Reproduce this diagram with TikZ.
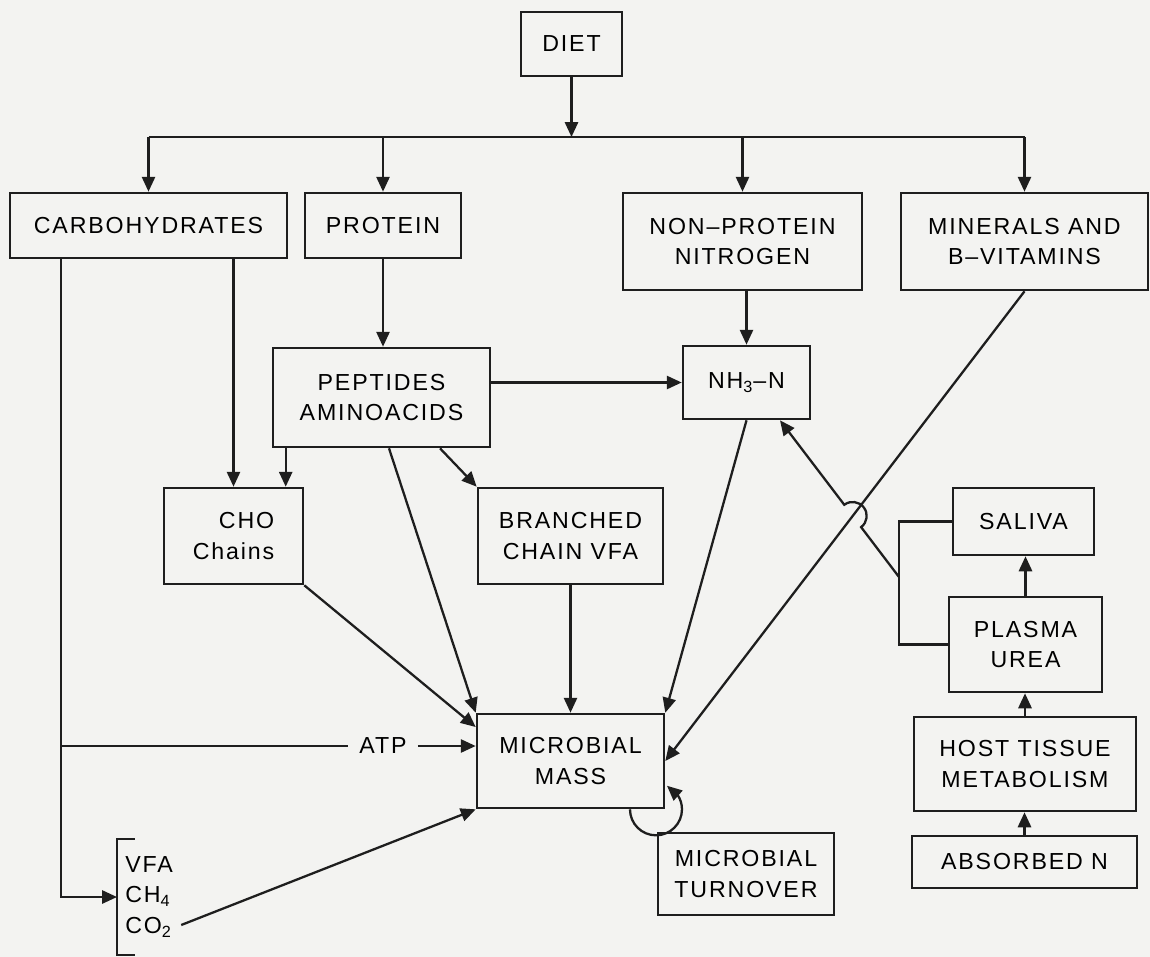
\documentclass[tikz,border=0pt]{standalone}
\usepackage{fontspec}
\setmainfont{Liberation Sans}[LetterSpace=8]
\usepackage{tikz}
\usetikzlibrary{calc,arrows.meta,bending,positioning}
\definecolor{cInk}{RGB}{30,30,30}
\definecolor{cPaper}{RGB}{243,243,241}

\begin{document}
\begin{tikzpicture}[x=0.02cm,y=-0.02cm,
  font=\fontsize{13.2pt}{17.6pt}\selectfont,
  box/.style={draw=cInk,line width=1.5pt,align=center,inner sep=2pt},
  arr/.style={draw=cInk,line width=1.3pt,-{Triangle[width=7.5pt,length=8.5pt]}},
  lnk/.style={draw=cInk,line width=1.3pt}]
  \fill[cPaper] (0,0) rectangle (1150,957);
  \useasboundingbox (0,0) rectangle (1150,957);

  % boxes
  \node[box,minimum width=2.02cm,minimum height=1.28cm] (diet) at (571.5,44) {DIET};
  \node[box,minimum width=5.54cm,minimum height=1.3cm] (carb) at (148.5,225.5) {CARBOHYDRATES};
  \node[box,minimum width=3.12cm,minimum height=1.3cm] (prot) at (383,225.5) {PROTEIN};
  \node[box,minimum width=4.78cm,minimum height=1.94cm] (npn) at (742.5,241.5) {NON\textendash PROTEIN\\NITROGEN};
  \node[box,minimum width=4.94cm,minimum height=1.94cm] (mins) at (1024.5,241.5) {MINERALS AND\\B\textendash VITAMINS};
  \node[box,minimum width=4.34cm,minimum height=1.98cm] (pep) at (381.5,397.5) {PEPTIDES\\AMINOACIDS};
  \node[box,minimum width=2.54cm,minimum height=1.46cm] (nh3) at (746.5,382.5) {NH\textsubscript{3}\textendash N};
  \node[box,align=right,minimum width=2.78cm,minimum height=1.92cm] (cho) at (233.5,536) {CHO\\Chains};
  \node[box,minimum width=3.7cm,minimum height=1.92cm] (bcvfa) at (570.5,536) {BRANCHED\\CHAIN VFA};
  \node[box,minimum width=3.74cm,minimum height=1.88cm] (mm) at (570.5,761) {MICROBIAL\\MASS};
  \node[box,minimum width=3.52cm,minimum height=1.64cm] (turn) at (746,874) {MICROBIAL\\TURNOVER};
  \node[box,minimum width=2.82cm,minimum height=1.34cm] (saliva) at (1023.5,521.5) {SALIVA};
  \node[box,minimum width=3.06cm,minimum height=1.9cm] (plasma) at (1025.5,644.5) {PLASMA\\UREA};
  \node[box,minimum width=4.44cm,minimum height=1.88cm] (host) at (1025,764) {HOST TISSUE\\METABOLISM};
  \node[box,minimum width=4.5cm,minimum height=1.04cm] (absn) at (1024.5,862) {ABSORBED N};
  \node[align=left,anchor=west,inner xsep=0.16cm,inner ysep=0pt,minimum height=2.3cm] (gas) at (117,897) {VFA\\CH\textsubscript{4}\\CO\textsubscript{2}};
  \node[inner xsep=0.22cm] (atp) at (383,746) {ATP};
  \draw[lnk] ([xshift=0.36cm]gas.north west) -- (gas.north west) -- (gas.south west) -- ++(0.36cm,0);

  % diet split
  \coordinate (bus) at (571.5,137);
  \draw[arr] (diet) -- (bus);
  \draw[lnk] (carb.north |- bus) -- (mins.north |- bus);
  \foreach \n in {carb,prot,npn,mins}
    \draw[arr] (\n.north |- bus) -- (\n.north);

  % carbohydrates
  \coordinate (cl) at ([xshift=1.04cm]carb.south west);
  \draw[arr] (cl) |- (gas.west);
  \draw[lnk] (cl |- atp) -- (atp.west);
  \draw[arr] (atp.east) -- (atp.east -| mm.west);
  \draw[arr] (carb.south -| cho.north) -- (cho.north);

  % protein and nitrogen
  \coordinate (pl) at ([xshift=0.28cm]pep.south west);
  \draw[arr] (prot.south) -- (prot.south |- pep.north);
  \draw[arr] (pl) -- (pl |- cho.north);
  \draw[arr] (pep.east |- nh3) -- (nh3.west);
  \draw[arr] ([xshift=0.15cm]pep.south) -- (mm.north west);
  \draw[arr] ([xshift=1.17cm]pep.south) -- (bcvfa.north west);
  \draw[arr] (npn.south -| nh3) -- (nh3.north);

  % into microbial mass
  \draw[arr] (cho.south east) -- ([yshift=0.68cm]mm.west);
  \draw[arr] (bcvfa.south) -- (mm.north);
  \draw[arr] (nh3.south) -- (mm.north east);
  \draw[arr] (mins.south) -- (mm.east);
  \draw[arr] ([yshift=-0.56cm]gas.east) -- (mm.south west);
  \draw[arr] ([xshift=1.19cm]mm.south) arc[start angle=180,end angle=425,radius=0.52cm];

  % urea recycling
  \draw[arr] (absn.north) -- (absn.north |- host.south);
  \draw[arr] (host.north) -- (host.north |- plasma.south);
  \draw[arr] (plasma.north) -- (plasma.north |- saliva.south);
  \coordinate (uj) at (899,577);
  \draw[lnk] (saliva.west) -| (uj) |- (plasma.west);
  \coordinate (ntip) at ([xshift=0.67cm]nh3.south);
  \coordinate (xing) at (intersection of uj--ntip and mins.south--mm.east);
  \draw[arr] (uj) -- ($(xing)!0.28cm!(uj)$) arc[start angle=307,end angle=487,radius=0.28cm] -- (ntip);
\end{tikzpicture}
\end{document}
